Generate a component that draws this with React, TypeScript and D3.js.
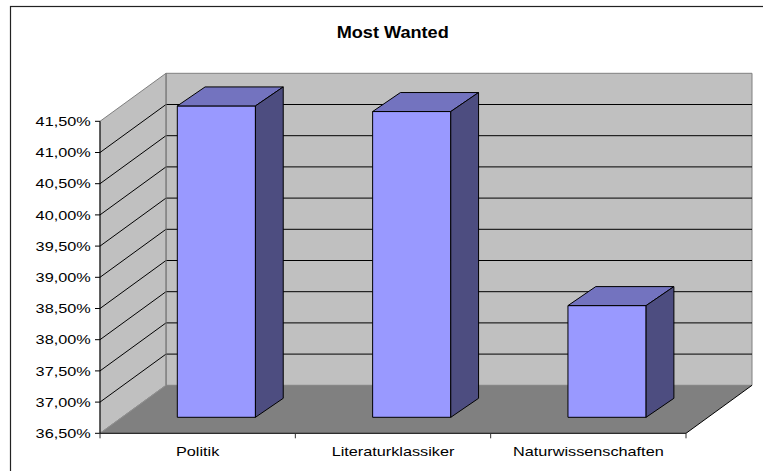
import React, { useEffect, useRef } from 'react';
import * as d3 from 'd3';

const categories = ['Politik', 'Literaturklassiker', 'Naturwissenschaften'];
const values = [41.49, 41.4, 38.29];
const yTicks = [36.5, 37, 37.5, 38, 38.5, 39, 39.5, 40, 40.5, 41, 41.5];
const title = 'Most Wanted';

const W = 763;
const H = 471;
const FONT = '"Liberation Sans", Arial, sans-serif';
const STRETCH = 1.25; // axis text in the original is rendered horizontally stretched

const App: React.FC = () => {
  const svgRef = useRef<SVGSVGElement>(null);

  useEffect(() => {
    if (!svgRef.current) return;
    const svg = d3.select(svgRef.current);
    svg.selectAll('*').remove();

    // plot geometry (front plane + depth vector of the 3D box)
    const left = 100;
    const right = 686;
    const depthX = 66;
    const depthY = -48;
    // bar placement inside the depth
    const barFront = { dx: 18.7, dy: -16 };
    const barBack = { dx: 46.5, dy: -35 };

    const x = d3.scaleBand<string>()
      .domain(categories)
      .range([left, right])
      .paddingInner(0.6)
      .paddingOuter(0.3);
    const slot = d3.scaleBand<string>().domain(categories).range([left, right]);

    const y = d3.scaleLinear()
      .domain([yTicks[0], yTicks[yTicks.length - 1]])
      .range([433.3, 121.3]);

    const locale = d3.formatLocale({ decimal: ',', thousands: '.', grouping: [3], currency: ['', '€'] });
    const fmt = (v: number) => locale.format('.2f')(v) + '%';

    const yMin = y(yTicks[0]);
    const yMax = y(yTicks[yTicks.length - 1]);
    const pt = (p: [number, number][]) => p.map((d) => d.join(',')).join(' ');

    // outer chart border
    svg.append('rect')
      .attr('x', 10.5).attr('y', 6.5)
      .attr('width', 900).attr('height', 600)
      .attr('fill', '#fff')
      .attr('stroke', '#222')
      .attr('stroke-width', 1.2);

    // back wall
    svg.append('polygon')
      .attr('points', pt([
        [left + depthX, yMax + depthY], [right + depthX, yMax + depthY],
        [right + depthX, yMin + depthY], [left + depthX, yMin + depthY],
      ]))
      .attr('fill', '#c0c0c0')
      .attr('stroke', '#808080');

    // side wall
    svg.append('polygon')
      .attr('points', pt([
        [left, yMax], [left + depthX, yMax + depthY],
        [left + depthX, yMin + depthY], [left, yMin],
      ]))
      .attr('fill', '#c0c0c0')
      .attr('stroke', '#808080');

    // gridlines on walls
    const inner = yTicks.slice(1, -1);
    svg.append('g').selectAll('line.back').data(inner).join('line')
      .attr('x1', left + depthX).attr('x2', right + depthX)
      .attr('y1', (d) => y(d) + depthY).attr('y2', (d) => y(d) + depthY)
      .attr('stroke', '#000').attr('stroke-width', 1);
    svg.append('g').selectAll('line.side').data(inner).join('line')
      .attr('x1', left).attr('x2', left + depthX)
      .attr('y1', (d) => y(d)).attr('y2', (d) => y(d) + depthY)
      .attr('stroke', '#000').attr('stroke-width', 1);
    svg.append('line')
      .attr('x1', left + depthX).attr('x2', left + depthX)
      .attr('y1', yMax + depthY).attr('y2', yMin + depthY)
      .attr('stroke', '#808080');

    // floor
    svg.append('polygon')
      .attr('points', pt([
        [left, yMin], [right, yMin],
        [right + depthX, yMin + depthY], [left + depthX, yMin + depthY],
      ]))
      .attr('fill', '#808080');
    svg.append('line')
      .attr('x1', left).attr('y1', yMin)
      .attr('x2', left + depthX).attr('y2', yMin + depthY)
      .attr('stroke', '#909090');
    svg.append('line')
      .attr('x1', right).attr('y1', yMin)
      .attr('x2', right + depthX).attr('y2', yMin + depthY)
      .attr('stroke', '#000');

    // bars
    const bars = svg.append('g').attr('stroke', '#000').attr('stroke-width', 1).attr('stroke-linejoin', 'round');
    categories.forEach((c, i) => {
      const x0 = x(c)!;
      const x1 = x0 + x.bandwidth();
      const yt = y(values[i]);
      const f = barFront;
      const b = barBack;
      bars.append('polygon')
        .attr('fill', '#9999ff')
        .attr('points', pt([
          [x0 + f.dx, yt + f.dy], [x1 + f.dx, yt + f.dy],
          [x1 + f.dx, yMin + f.dy], [x0 + f.dx, yMin + f.dy],
        ]));
      bars.append('polygon')
        .attr('fill', '#7373bf')
        .attr('points', pt([
          [x0 + f.dx, yt + f.dy], [x1 + f.dx, yt + f.dy],
          [x1 + b.dx, yt + b.dy], [x0 + b.dx, yt + b.dy],
        ]));
      bars.append('polygon')
        .attr('fill', '#4d4d80')
        .attr('points', pt([
          [x1 + f.dx, yt + f.dy], [x1 + b.dx, yt + b.dy],
          [x1 + b.dx, yMin + b.dy], [x1 + f.dx, yMin + f.dy],
        ]));
    });

    // axes
    svg.append('line')
      .attr('x1', left).attr('x2', left).attr('y1', yMax).attr('y2', yMin)
      .attr('stroke', '#000');
    svg.append('line')
      .attr('x1', left).attr('x2', right).attr('y1', yMin).attr('y2', yMin)
      .attr('stroke', '#000');

    svg.append('g').selectAll('line').data(yTicks).join('line')
      .attr('x1', left - 5).attr('x2', left)
      .attr('y1', (d) => y(d)).attr('y2', (d) => y(d))
      .attr('stroke', '#000');

    svg.append('g').selectAll('text').data(yTicks).join('text')
      .attr('transform', (d) => `translate(90.7, ${y(d) + 4.7}) scale(${STRETCH}, 1)`)
      .attr('text-anchor', 'end')
      .attr('font-family', FONT)
      .attr('font-size', 13)
      .attr('fill', '#000')
      .text((d) => fmt(d));

    const catTicks = [...categories.map((c) => slot(c)!), right];
    svg.append('g').selectAll('line').data(catTicks).join('line')
      .attr('x1', (d) => d).attr('x2', (d) => d)
      .attr('y1', yMin).attr('y2', yMin + 5)
      .attr('stroke', '#333');

    svg.append('g').selectAll('text').data(categories).join('text')
      .attr('transform', (d) => `translate(${slot(d)! + slot.bandwidth() / 2}, 455.5) scale(${STRETCH}, 1)`)
      .attr('text-anchor', 'middle')
      .attr('font-family', FONT)
      .attr('font-size', 13)
      .attr('fill', '#000')
      .text((d) => d);

    svg.append('text')
      .attr('transform', `translate(392.7, 38.3) scale(1.1, 1)`)
      .attr('text-anchor', 'middle')
      .attr('font-family', FONT)
      .attr('font-size', 16.5)
      .attr('font-weight', 'bold')
      .attr('fill', '#000')
      .text(title);
  }, []);

  return (
    <svg
      ref={svgRef}
      width={W}
      height={H}
      style={{ position: 'absolute', left: 0, top: 0, background: '#fff' }}
    />
  );
};

export default App;
